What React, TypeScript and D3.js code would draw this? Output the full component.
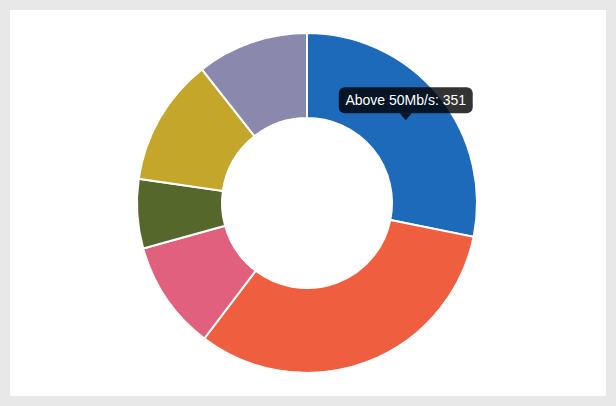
import React from 'react';
import * as d3 from 'd3';

// speed bands, clockwise from 12 o'clock
const labels = ['Above 50Mb/s', '24-50Mb/s', '10-24Mb/s', '5-10Mb/s', '2-5Mb/s', 'Below 2Mb/s'];
const values = [351, 400, 129, 82, 151, 132];
const colors = ['#1d6abb', '#ef5e3f', '#e0607e', '#55672a', '#c4a62b', '#8a88ad'];

const WIDTH = 616;
const HEIGHT = 406;

const App: React.FC = () => {
  const cx = 307;
  const cy = 203;
  const outer = 170;
  const inner = 85;

  const pie = d3.pie<number>().sort(null).value(d => d);
  const arcs = pie(values);
  const arc = d3.arc<d3.PieArcDatum<number>>().innerRadius(inner).outerRadius(outer);

  // tooltip anchored at the centroid of the first slice
  const [tx, ty] = arc.centroid(arcs[0]);
  const tipX = cx + tx;
  const tipY = cy + ty - 2;
  const boxW = 134;
  const boxH = 26;
  const caret = 7;
  const boxY = tipY - caret - boxH;
  const tooltipText = `${labels[0]}: ${values[0]}`;

  return (
    <svg
      width={WIDTH}
      height={HEIGHT}
      style={{ position: 'absolute', left: 0, top: 0, display: 'block' }}
    >
      <rect x={0} y={0} width={WIDTH} height={HEIGHT} fill="#e8e8e8" />
      <rect x={10} y={10} width={596} height={386} fill="#ffffff" />
      <g transform={`translate(${cx},${cy})`}>
        {arcs.map((a, i) => (
          <path
            key={labels[i]}
            d={arc(a) || ''}
            fill={colors[i]}
            stroke="#ffffff"
            strokeWidth={2}
          />
        ))}
      </g>
      <g>
        <rect
          x={tipX - boxW / 2}
          y={boxY}
          width={boxW}
          height={boxH}
          rx={6}
          fill="rgba(0,0,0,0.8)"
        />
        <path
          d={`M${tipX - 6},${boxY + boxH} L${tipX},${tipY} L${tipX + 6},${boxY + boxH} Z`}
          fill="rgba(0,0,0,0.8)"
        />
        <text
          x={tipX}
          y={boxY + boxH / 2 + 5}
          textAnchor="middle"
          fill="#ffffff"
          style={{ fontFamily: '"Liberation Sans", Arial, sans-serif', fontSize: 14 }}
        >
          {tooltipText}
        </text>
      </g>
    </svg>
  );
};

export default App;
